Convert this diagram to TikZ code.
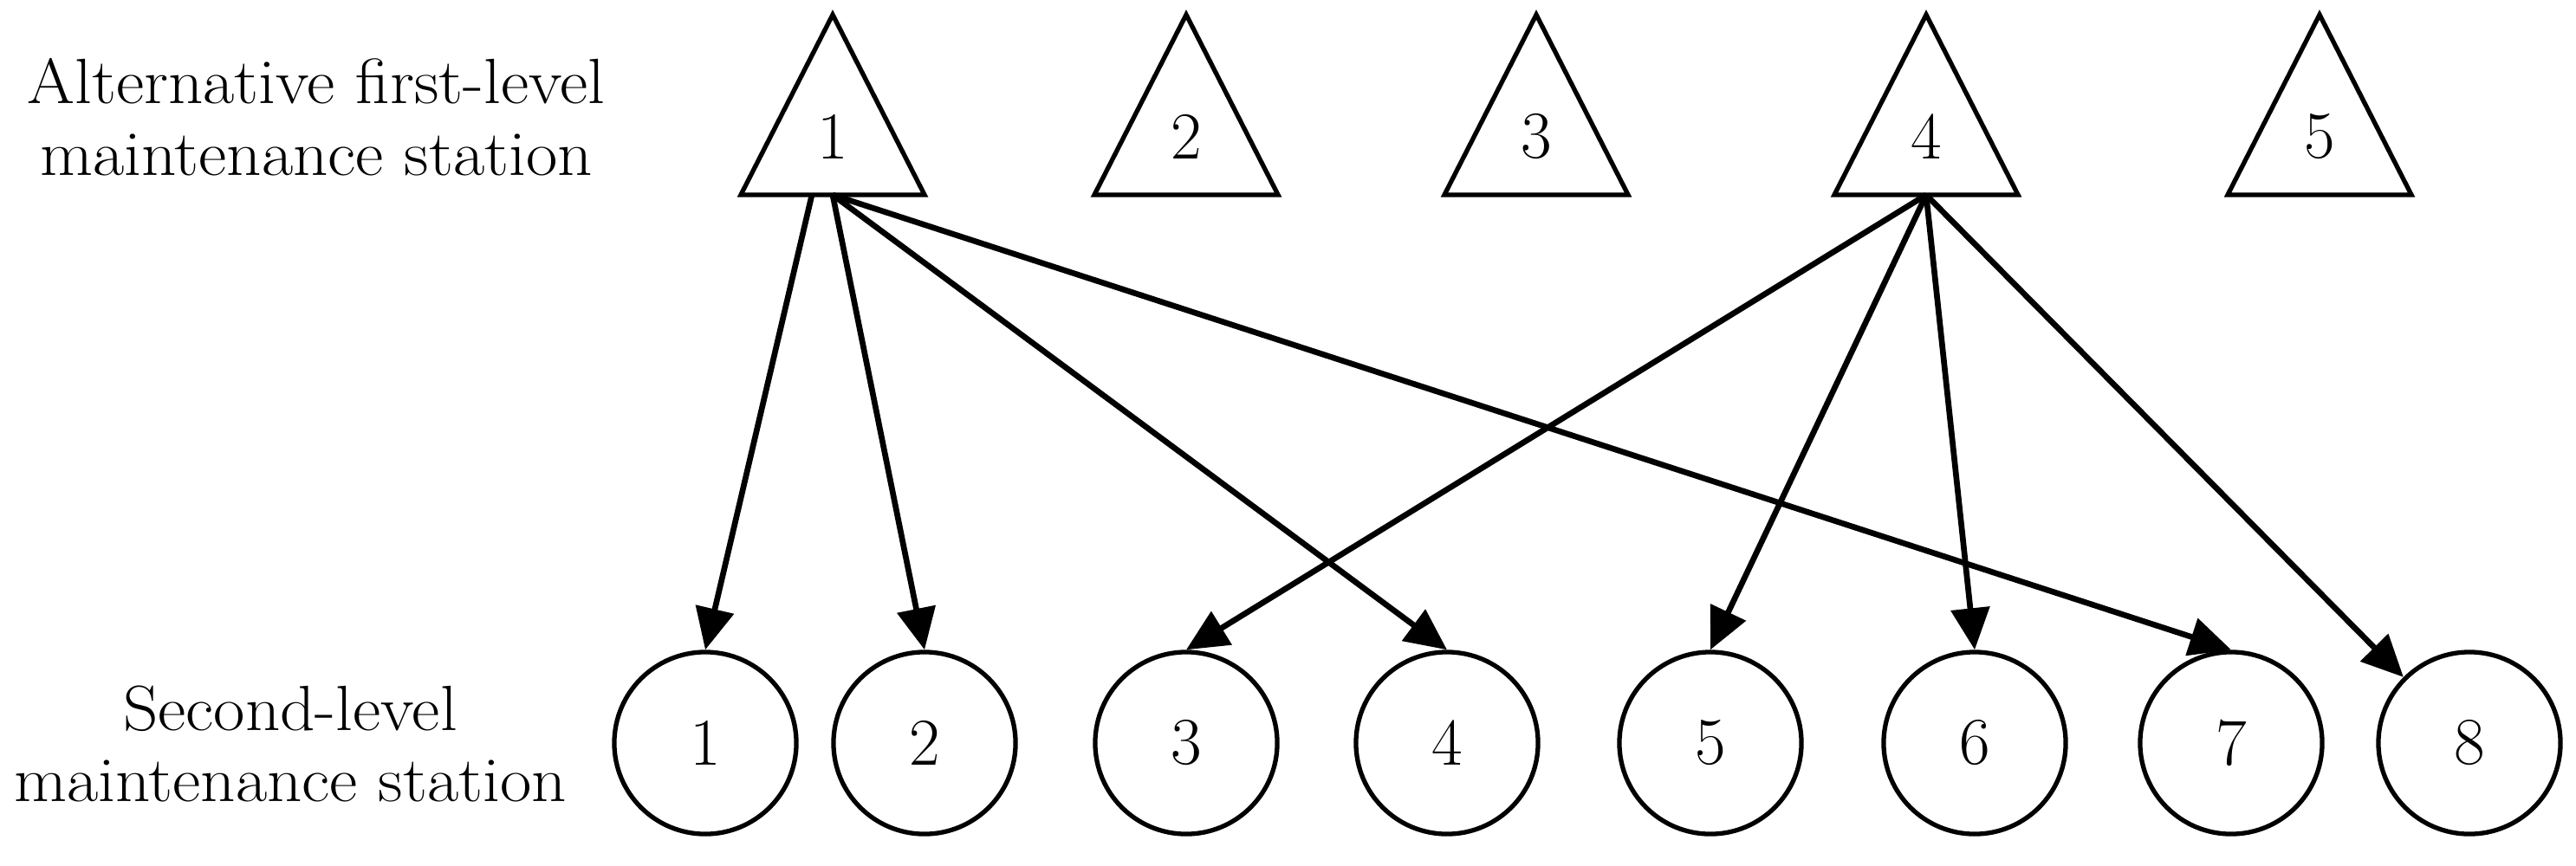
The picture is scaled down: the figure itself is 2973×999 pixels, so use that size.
\documentclass[tikz,border=0pt]{standalone}
\usetikzlibrary{arrows.meta}
\newcommand\digitfont{\fontsize{22}{26}\selectfont}
\newcommand\lblfont{\fontsize{21}{23.5}\selectfont}
\newcommand\widetext[1]{\scalebox{1.07}[1]{#1}}
\begin{document}
\begin{tikzpicture}[x=0.01cm, y=-0.01cm,
  outline/.style={line width=1.5pt, line join=miter},
  tribox/.style={minimum width=2.12cm, minimum height=2.08cm, inner sep=0pt, outer sep=0pt},
  station/.style={circle, draw, line width=1.5pt, minimum size=2.1cm, inner sep=0pt, font=\digitfont},
  digit/.style={font=\digitfont, inner sep=0pt},
  lbl/.style={align=center, font=\lblfont, inner sep=0pt},
  arr/.style={line width=1.9pt, -{Triangle[length=0.48cm, width=0.44cm]}}]
\useasboundingbox (0,0) rectangle (2973,999);
% labels
\node[lbl] (toplabel) at (365,135) {\widetext{Alternative first-level}\\\widetext{maintenance station}};
\node[lbl] (botlabel) at (335,859) {\widetext{Second-level}\\\widetext{maintenance station}};
% first-level stations (triangles)
\foreach \i/\x in {1/961, 2/1369, 3/1773, 4/2223, 5/2677}{
  \node[tribox] (t\i) at (\x,121) {};
  \draw[outline] (t\i.south west) -- (t\i.north) -- (t\i.south east) -- cycle;
  \node[digit] (n\i) at (\x,158) {\i};
}
% second-level stations (circles)
\foreach \i/\x in {1/814, 2/1067, 3/1369, 4/1670, 5/1974, 6/2279, 7/2575, 8/2850}{
  \node[station] (c\i) at (\x,858) {\i};
}
% connectors
\draw[arr] ([xshift=-0.24cm]t1.south) -- (c1.north);
\draw[arr] (t1.south) -- (c2.north);
\draw[arr] (t1.south) -- (c4.north);
\draw[arr] (t1.south) -- (c7.north);
\draw[arr] (t4.south) -- (c3.north);
\draw[arr] (t4.south) -- (c5.north);
\draw[arr] (t4.south) -- (c6.north);
\draw[arr] (t4.south) -- (c8.135);
\end{tikzpicture}
\end{document}
